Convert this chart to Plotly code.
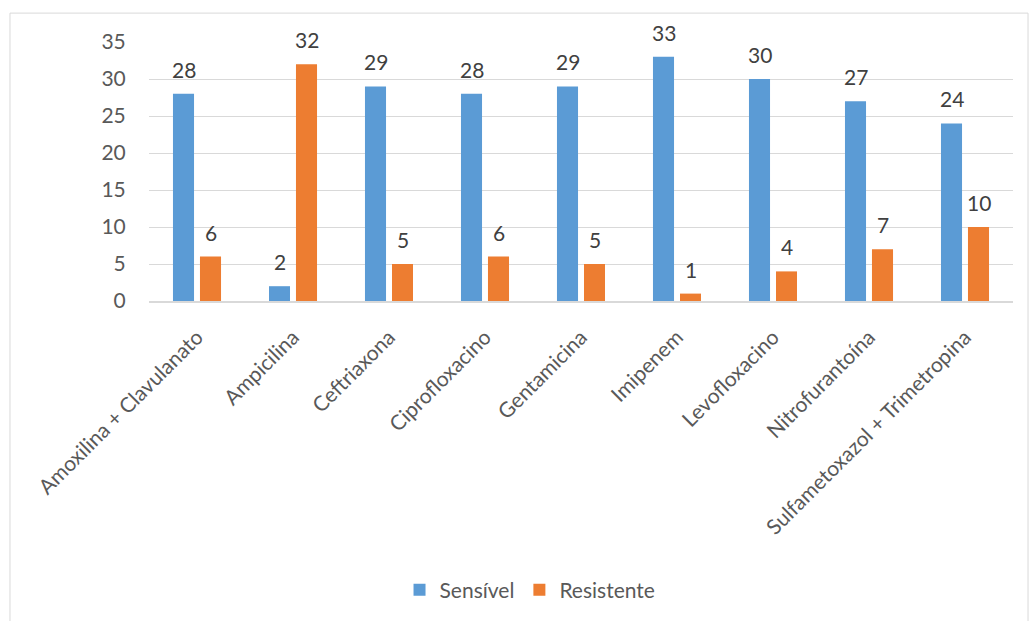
import plotly.graph_objects as go

# Antibiotic susceptibility counts
antibioticos = [
    "Amoxilina + Clavulanato",
    "Ampicilina",
    "Ceftriaxona",
    "Ciprofloxacino",
    "Gentamicina",
    "Imipenem",
    "Levofloxacino",
    "Nitrofurantoína",
    "Sulfametoxazol + Trimetropina",
]
sensivel = [28, 2, 29, 28, 29, 33, 30, 27, 24]
resistente = [6, 32, 5, 6, 5, 1, 4, 7, 10]
y_ticks = [0, 5, 10, 15, 20, 25, 30, 35]

BLUE = "#5b9bd5"
ORANGE = "#ed7d31"
FONT = "Lato"

fig = go.Figure()
fig.add_trace(go.Bar(name="Sensível", x=antibioticos, y=sensivel,
                     marker=dict(color=BLUE, line=dict(width=0))))
fig.add_trace(go.Bar(name="Resistente", x=antibioticos, y=resistente,
                     marker=dict(color=ORANGE, line=dict(width=0))))

# value labels above each bar
annotations = []
for vals, shift in ((sensivel, -13.5), (resistente, 13.5)):
    for cat, v in zip(antibioticos, vals):
        annotations.append(dict(
            x=cat, y=v, xref="x", yref="y", text=str(v), showarrow=False,
            xshift=shift, yshift=10, yanchor="bottom",
            font=dict(family=FONT, size=21, color="#404040"),
        ))

fig.update_layout(
    width=1029, height=621,
    margin=dict(l=149, r=16, t=42, b=319),
    paper_bgcolor="white", plot_bgcolor="white",
    barmode="group", bargap=0.4375, bargroupgap=0.22,
    font=dict(family=FONT, size=20, color="#595959"),
    showlegend=True,
    legend=dict(orientation="h", x=0.441, xanchor="center",
                y=-1.108, yanchor="middle",
                font=dict(family=FONT, size=21, color="#595959"),
                itemwidth=30, traceorder="normal"),
    annotations=annotations,
    shapes=[dict(type="rect", xref="paper", yref="paper",
                 x0=-0.1609, x1=1.0174, y0=-1.3, y1=1.1115,
                 line=dict(color="#d9d9d9", width=1), layer="below")],
)
fig.update_xaxes(tickangle=-45, showgrid=False, showline=True,
                 linecolor="#d9d9d9", linewidth=1.5,
                 ticks="outside", ticklen=14, tickcolor="rgba(0,0,0,0)",
                 tickfont=dict(family=FONT, size=21, color="#595959"))
fig.update_yaxes(range=[0, 35], tickvals=y_ticks, showgrid=True,
                 gridcolor="#d9d9d9", gridwidth=1, zeroline=False,
                 ticks="outside", ticklen=18, tickcolor="rgba(0,0,0,0)",
                 tickfont=dict(family=FONT, size=21, color="#595959"))

fig.write_html("out.html")
